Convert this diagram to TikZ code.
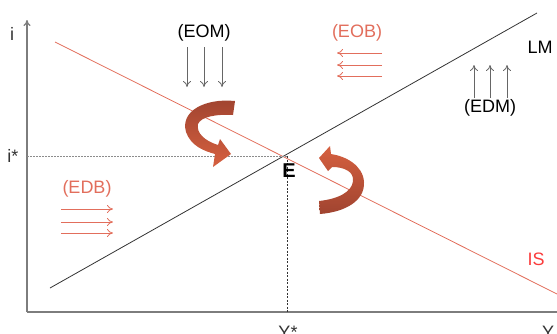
\documentclass[tikz,border=0pt]{standalone}
\usepackage{fontspec}
\setmainfont{Liberation Sans}
\usetikzlibrary{arrows.meta}
\definecolor{salmon}{RGB}{226,110,92}
\definecolor{isred}{RGB}{250,60,60}
\definecolor{ribdark}{RGB}{160,68,48}
\definecolor{riblight}{RGB}{214,96,64}
\definecolor{axisgray}{RGB}{125,125,125}
\tikzset{
  lbl/.style={font=\fontsize{18}{21}\selectfont, inner sep=0pt},
  smallarr/.style={line width=0.8pt, -{To[length=6pt,width=8pt]}},
}
\begin{document}
\begin{tikzpicture}[x=1pt,y=-1pt]
\useasboundingbox (0,0) rectangle (557,333);
% axes
\coordinate (O) at (27,312);
\coordinate (ytop) at (27,20);
\coordinate (xend) at (560,312);
\draw[axisgray, line width=1.3pt, -{To[length=6pt,width=7pt]}] (O) -- (ytop);
\draw[axisgray, line width=1.3pt] (O) -- (xend);
\node[lbl, text=black!80] (ilab) at (12,34) {i};
\node[lbl, text=black!80] (istar) at (13,156) {i*};
\node[lbl, text=black!80] (ystar) at (288,332) {Y*};
\node[lbl, text=black!80] (ylab) at (548,332) {Y};
% curves
\coordinate (IS1) at (55,42);
\coordinate (IS2) at (557,294);
\coordinate (LM1) at (50,288);
\coordinate (LM2) at (537,13);
\coordinate (E) at (287,156);
\draw[salmon, line width=0.8pt] (IS1) -- (IS2);
\draw[black!80, line width=0.8pt] (LM1) -- (LM2);
\draw[black!45, dashed, line width=0.9pt, dash pattern=on 2pt off 1pt] (27,156) -- (E);
\draw[black!80, dashed, line width=0.8pt, dash pattern=on 2pt off 1.5pt] (E) -- (287,312);
\node[lbl, font=\fontsize{20}{22}\selectfont\bfseries] (elab) at (289,171) {E};
\node[lbl] (lmlab) at (540,47) {LM};
\node[lbl, text=isred] (islab) at (536,259) {IS};
% EOM
\node[lbl] (eom) at (204,33) {(EOM)};
\foreach \x in {187,204,222} \draw[smallarr, black!60] (\x,47) -- (\x,87);
% EOB
\node[lbl, text=salmon] (eob) at (357,33) {(EOB)};
\foreach \y in {53,65,76} \draw[smallarr, salmon] (382,\y) -- (337,\y);
% EDM
\node[lbl] (edm) at (490,108) {(EDM)};
\foreach \x in {474,490,507} \draw[smallarr, black!60] (\x,98) -- (\x,65);
% EDB
\node[lbl, text=salmon] (edb) at (87,189) {(EDB)};
\foreach \y in {209,222,233} \draw[smallarr, salmon] (61,\y) -- (113,\y);
% ribbon arrows
\path[top color=ribdark, bottom color=riblight]
  (235,101) .. controls (205,98) and (180,111) .. (186,132)
  .. controls (191,146) and (204,151) .. (215,154)
  -- (213,167) -- (231,154) -- (220,139) -- (218,145)
  .. controls (205,141) and (196,133) .. (198,124)
  .. controls (201,117) and (215,114) .. (233,115) -- cycle;
\path[top color=riblight, bottom color=ribdark]
  (319,158) -- (330,146) -- (331,154)
  .. controls (345,156) and (363,165) .. (364,182)
  .. controls (365,201) and (345,212) .. (320,214)
  -- (319,201)
  .. controls (338,199) and (352,192) .. (353,181)
  .. controls (354,172) and (345,167) .. (332,167)
  -- (328,171) -- cycle;
\end{tikzpicture}
\end{document}
